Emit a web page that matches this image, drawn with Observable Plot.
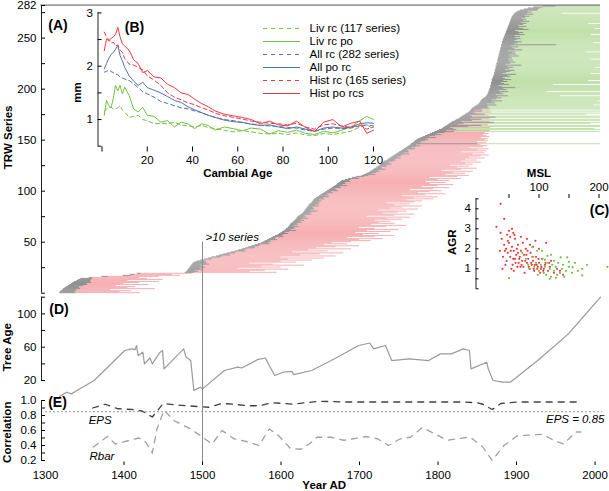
<!DOCTYPE html>
<html><head><meta charset="utf-8">
<script src="https://cdn.jsdelivr.net/npm/d3@7"></script>
<script src="https://cdn.jsdelivr.net/npm/@observablehq/plot@0.6"></script>
<style>
body{margin:0;background:#fff}
#chart{position:relative;width:609px;height:491px;overflow:hidden;background:#fff}
</style></head><body><div id="chart"></div>
<script>
// ---------- Panel A: TRW series (sorted by start) ----------
const seriesStart = [
1318,1319,1320,1322,1323,1325,1327,1329,1331,1333,1335,1337,1340,1342,1345,
1356,1372,1399,1408,1417,
1478,1480,1481,1482,1483,1484,1485,1486,1487,1488,1490,1493,
1498,1503,1508,1512,1518,1522,1527,1532,1537,1542,1546,1551,1555,1559,1563,1567,1571,1575,
1578,1580,1583,1585,1588,1590,1593,1596,1598,1600,1602,1604,1606,1607,1609,1610,1611,1612,1613,1615,
1616,1618,1619,1620,1621,1622,1624,1626,1628,1629,1630,1631,1632,1633,1634,1635,1636,1637,1639,1640,
1641,1642,1643,1645,1647,1649,1651,1653,1655,1657,1659,1661,1663,1665,1667,1669,1671,1672,1674,1676,
1678,1682,1686,1691,1696,1703,1706,1709,1712,1714,1716,1718,1720,1722,1724,1726,1727,1729,1730,1732,
1735,1737,1739,1741,1743,1745,1747,1749,1751,1753,1755,1757,1759,1761,1763,1765,1766,1768,1770,1771,
1773,1775,1778,1781,1784,1787,1790,1793,1796,1799,1802,1805,1807,1809,1811,1813,1815,1817,1819,1822,
1824,1827,1829,1831,1833,1835,1837,1839,1841,1842,1843,1844,1846,1848,1850,1852,1853,1854,1855,1856,
1857,1859,1861,1862,1863,1864,1864,1865,1865,1866,1866,1867,1867,1867,1868,1868,1868,1869,1869,1869,
1870,1870,1871,1871,1872,1872,1872,1873,1873,1873,1874,1874,1874,1875,1875,1875,1876,1876,1876,1877,
1877,1877,1878,1878,1878,1879,1879,1879,1880,1880,1880,1881,1881,1881,1882,1882,1882,1883,1883,1884,
1884,1885,1885,1886,1886,1887,1887,1888,1888,1889,1889,1890,1890,1891,1891,1892,1892,1893,1893,1894,
1894,1895,1896,1897,1898,1900,1902,1905,1910,1915,1922,1934];
const seriesPith = [
21,18,20,17,22,19,16,20,23,20,24,21,18,17,15,
4,8,10,6,5,
12,15,10,18,14,20,16,12,22,18,15,10,
6,9,5,11,8,14,7,10,6,13,8,6,12,8,10,7,15,9,
10,7,13,8,6,14,9,8,12,6,9,16,7,11,8,13,6,10,8,12,
9,12,7,15,8,10,6,13,8,10,17,7,11,9,6,14,8,12,8,10,
11,7,13,9,15,8,10,6,12,8,14,10,7,12,9,16,8,11,8,13,
10,8,14,6,11,9,15,7,10,12,8,16,9,6,12,8,14,10,7,11,
12,8,14,7,10,9,17,8,12,10,6,14,8,11,15,8,85,10,9,13,
15,11,20,9,13,18,10,16,25,12,22,15,9,30,45,13,18,55,11,22,
32,15,45,13,8,25,11,6,16,5,13,22,18,15,25,11,20,16,27,13,
18,22,15,28,11,20,16,25,13,22,18,32,15,11,23,17,13,20,15,25,
16,13,22,18,28,11,15,20,25,13,17,22,15,32,11,18,23,15,20,13,
18,15,25,13,22,16,20,11,28,18,15,22,13,70,16,20,25,15,18,22,
15,20,13,25,18,22,16,11,28,20,15,23,13,18,22,15,25,16,20,13,
18,22,15,25,16,20,13,22,18,15,12,16];
const seriesEnd = [
1421,1395,1410,1383,1440,1405,1415,1390,1432,1400,1420,1445,1405,1450,1430,
1420,1445,1472,1462,1487,
1595,1560,1580,1610,1545,1600,1575,1630,1590,1560,1620,1600,
1640,1610,1655,1600,1670,1625,1650,1680,1615,1660,1635,1690,1645,1670,1700,1655,1685,1665,
1690,1715,1700,1730,1685,1720,1745,1705,1725,1695,1740,1710,1750,1720,1700,1735,1760,1715,1745,1725,
1740,1720,1755,1735,1765,1710,1745,1770,1730,1750,1760,1725,1775,1740,1755,1780,1745,1765,1735,1770,
1780,1760,1795,1770,1800,1755,1785,1810,1775,1790,1805,1765,1795,1815,1780,1800,1820,1790,1810,1785,
1815,1800,1830,1790,1825,1840,1810,1835,1820,1845,1805,1830,1850,1825,1840,1815,1845,1835,1855,1830,
1850,1835,1860,1840,1855,1865,1845,1860,1830,1862,1850,1865,1840,1858,1863,1855,2007,1862,1850,1864,
1860,1864,1855,1866,1862,1858,1865,1860,2007,1866,2007,2000,1867,2007,2007,1864,1995,2007,1866,2007,
2007,1867,2007,2007,1865,1990,2007,1868,2007,1867,2007,2007,2007,2007,1998,2007,2007,2007,2003,2007,
2007,2007,2007,1956,2007,2007,2007,1939,2007,2007,2007,2007,2007,2007,1947,2007,2007,2007,1992,2007,
2007,2007,2007,2007,2007,1995,2007,2007,2007,2007,2007,2000,2007,2007,2007,2007,2007,2007,2007,1995,
2007,2007,2007,2007,2007,2007,1990,2007,2007,2007,2007,2007,2007,2007,2007,1998,2007,2007,2007,2007,
2007,2007,2007,1995,2007,2007,2007,2007,2007,2000,2007,2007,2007,2007,1992,2007,2007,2007,2007,2007,
2007,2007,2007,2007,1958,2007,2007,2007,2007,2007,2007,2007];
// h = historical, l = living
const seriesType = "h".repeat(146) + "l" + "h".repeat(11) + "lhllhllhllhllhllhllhlhll" + "l".repeat(100);
const trwTicks = [0,25,50,75,100,125,150,175,200,225,250,275,282];
const trwLabels = [50,100,150,200,250,282];
const cutoffYear = 1500, cutoffSeries = 50;

// ---------- Panel B: RCS curves ----------
const cambialAge = [1,2,3,4,5,6,7,8,9,10,12,14,16,18,20,23,26,29,32,35,38,41,44,47,50,54,58,62,66,70,74,78,82,86,90,94,98,102,106,110,114,117,120];
const livRc   = [1.15,1.2,1.22,1.23,1.2,1.2,1.22,1.26,1.18,1.14,1.04,1.06,1.08,1.0,0.98,0.92,0.93,0.92,0.95,0.9,0.88,0.86,0.89,0.85,0.83,0.8,0.77,0.79,0.77,0.74,0.73,0.74,0.72,0.75,0.71,0.7,0.74,0.72,0.75,0.78,0.86,0.9,0.82];
const livRcPo = [1.08,1.36,1.26,1.22,1.4,1.64,1.54,1.64,1.48,1.61,1.45,1.2,1.14,1.23,1.08,1.06,0.95,0.98,0.86,0.95,0.92,0.83,0.92,0.89,0.8,0.86,0.83,0.79,0.84,0.82,0.73,0.79,0.76,0.8,0.74,0.72,0.78,0.75,0.8,0.86,0.98,1.06,1.0];
const allRc   = [1.89,1.9,1.93,1.9,1.88,1.85,1.84,1.8,1.78,1.76,1.73,1.67,1.6,1.52,1.48,1.42,1.34,1.3,1.26,1.22,1.2,1.16,1.13,1.08,1.04,1.0,0.98,0.94,0.92,0.89,0.88,0.87,0.85,0.84,0.8,0.78,0.82,0.84,0.83,0.84,0.88,0.9,0.88];
const allPoRc = [1.95,2.05,2.15,2.22,2.26,2.32,2.39,2.2,2.1,1.98,1.82,1.72,1.64,1.7,1.6,1.55,1.5,1.43,1.36,1.32,1.24,1.18,1.13,1.08,1.04,0.99,0.96,0.95,0.91,0.89,0.9,0.86,0.83,0.86,0.82,0.78,0.84,0.86,0.84,0.86,0.92,0.94,0.93];
const histRc  = [2.64,2.55,2.5,2.43,2.45,2.38,2.4,2.3,2.26,2.15,2.04,2.02,1.98,1.93,1.82,1.74,1.64,1.5,1.42,1.37,1.31,1.28,1.22,1.18,1.12,1.07,1.04,1.01,0.97,0.95,0.93,0.92,0.9,0.93,0.86,0.82,0.9,0.92,0.88,0.85,0.9,0.82,0.86];
const histPoRcs = [2.29,2.51,2.48,2.52,2.55,2.6,2.73,2.55,2.42,2.38,2.3,2.12,2.05,1.88,1.92,1.8,1.78,1.66,1.6,1.5,1.47,1.38,1.3,1.24,1.16,1.1,1.07,1.04,1.0,0.92,0.97,0.9,0.88,0.97,0.85,0.78,0.95,1.0,0.86,0.93,0.97,0.74,0.8];
const legendLabels = ["Liv rc (117 series)","Liv rc po","All rc (282 series)","All po rc","Hist rc (165 series)","Hist po rcs"];
const mmTicks = [0.5,1,1.5,2,2.5,3];
const ageTicks = [0,20,40,60,80,100,120];

// ---------- Panel C: MSL vs AGR ----------
const histMSL = [36,29,42,36,50,55,57,52,80,94,42,39,45,48,52,55,58,60,62,65,66,68,70,72,74,75,78,80,82,84,86,88,90,92,95,98,100,102,105,108,110,112,115,118,120,125,130,135,140,46,50,60,64,70,76,85,40,44,54,58,100,90,35,38,
48,56,63,67,71,73,77,79,83,87,91,96,99,104,107,111,53,59,61,69,47,43,57,65,81,89,93,97,103,117];
const histAGR = [4.25,3.1,3.5,2.8,2.9,3.0,2.8,2.6,2.5,2.4,2.2,1.0,2.0,1.8,1.6,2.1,1.9,1.5,1.7,2.2,1.3,1.6,1.9,1.4,1.1,1.7,2.0,1.3,1.5,1.0,1.8,1.2,1.4,0.9,1.6,1.1,1.3,0.8,1.5,1.0,1.2,2.3,0.9,1.1,1.4,0.8,1.0,0.9,0.7,1.4,2.3,2.5,1.1,2.6,0.8,2.2,1.6,1.2,1.0,0.9,2.0,2.1,1.9,2.5,
2.4,1.2,2.0,1.5,1.2,2.3,1.4,1.7,1.1,1.3,1.0,1.2,1.5,1.1,0.9,1.3,1.9,2.7,1.3,1.1,2.7,1.9,1.5,1.8,1.9,1.6,1.2,1.0,1.0,1.3];
const livMSL = [50,89,97,114,125,136,147,156,172,172,214,72,78,82,85,90,95,100,103,106,108,110,112,115,118,120,122,125,128,130,132,135,138,140,142,145,150,155,160,165,120,105,98,92,118,128,110,150,180];
const livAGR = [0.53,2.08,1.9,1.65,1.4,1.57,1.57,1.08,1.0,0.67,1.1,1.8,1.5,1.2,1.0,1.6,1.3,0.9,1.2,1.5,0.8,1.1,0.7,1.3,1.0,0.6,1.2,0.9,1.1,0.7,1.3,0.8,1.0,1.2,0.6,0.9,1.1,0.8,1.3,0.9,1.7,1.9,0.7,1.1,0.5,0.55,1.45,1.35,1.2];
const agrTicks = [0,0.5,1,1.5,2,2.5,3,3.5,4,4.5];
const mslTicks = [50,100,150,200];

// ---------- Panel D: tree age ----------
const ageYear = [1318,1327,1333,1340,1362,1401,1410,1414,1416,1418,1424,1426,1433,1436,1446,1449,1451,1476,1479,1485,1489,1493,1497,1500,1528,1545,1550,1570,1580,1585,1592,1603,1614,1616,1639,1664,1699,1713,1718,1733,1741,1763,1788,1803,1817,1832,1840,1842,1862,1864,1870,1882,1892,1927,1966,2007];
const treeAge = [1,6,4,8,20,56,58,57,62,50,54,40,47,40,54,56,34,58,48,44,8,10,12,10,32,36,35,45,47,38,26,30,31,27,32,44,62,65,58,62,44,46,44,52,52,58,56,34,42,34,20,18,18,44,76,120];
const treeAgeTicks = [20,40,60,80,100,120];

// ---------- Panel E: EPS and Rbar ----------
const epsYear = [1360,1376,1392,1410,1423,1436,1450,1466,1481,1493,1508,1525,1540,1557,1572,1589,1604,1616,1631,1650,1680,1710,1740,1770,1800,1830,1850,1857,1869,1880,1900,1930,1960,1980];
const epsVal  = [0.90,0.95,0.89,0.88,0.86,0.78,0.96,0.94,0.93,0.92,0.91,0.96,0.95,0.93,0.93,0.97,0.96,0.95,0.97,0.99,0.98,0.98,0.98,0.98,0.98,0.98,0.97,0.95,0.88,0.96,0.98,0.98,0.98,0.98];
const rbarYear = [1361,1379,1389,1404,1419,1428,1436,1442,1451,1464,1485,1500,1512,1525,1540,1557,1572,1585,1597,1612,1625,1636,1646,1663,1680,1692,1708,1723,1737,1752,1765,1780,1795,1812,1825,1841,1857,1869,1884,1901,1918,1933,1947,1960,1975,1982];
const rbarVal  = [0.38,0.52,0.42,0.46,0.50,0.44,0.30,0.62,0.87,0.73,0.62,0.51,0.42,0.60,0.49,0.45,0.40,0.62,0.53,0.36,0.35,0.42,0.51,0.51,0.47,0.49,0.52,0.49,0.40,0.49,0.51,0.64,0.56,0.47,0.49,0.51,0.38,0.20,0.40,0.53,0.54,0.55,0.47,0.42,0.58,0.58];
const epsThreshold = 0.85;
const corrTicks = [0.2,0.3,0.4,0.5,0.6,0.7,0.8,0.9,1.0];
const yearLabels = [1300,1400,1500,1600,1700,1800,1900,2000];
const yearTicks = [1400,1500,1600,1700,1800,1900,2000];

// ---------- styles ----------
const PINK = "#f4a0a4", GREEN = "#b5da9a", GREYBAR = "#7c7c7c";
const RED = "#ec3a42", BLUE = "#5470ad", LGREEN = "#74c043";
const FONT = '"Liberation Sans", Arial, Helvetica, sans-serif';
const W = 609, H = 491;
const YEAR_DOMAIN = [1300, 2010];

function layer(opts) {
  const svg = Plot.plot({
    width: W, height: H,
    style: {background: "transparent", fontFamily: FONT, fontSize: "11px", color: "#000", overflow: "visible", position: "absolute", left: "0px", top: "0px", maxWidth: "none"},
    ...opts
  });
  document.getElementById("chart").appendChild(svg);
  return svg;
}

const rows = d3.range(seriesStart.length).map(i => ({
  row: i + 0.5, start: seriesStart[i], pithEnd: seriesStart[i] + seriesPith[i], end: seriesEnd[i], kind: seriesType[i]
}));
const hist = rows.filter(d => d.kind === "h");
const liv = rows.filter(d => d.kind === "l");

// ----- Panel A -----
layer({
  marginLeft: 45, marginRight: 6.6, marginTop: 5, marginBottom: H - 292.7,
  x: {domain: YEAR_DOMAIN, axis: null},
  y: {domain: [0, 282], label: null},
  marks: [
    Plot.ruleY(hist, {y: "row", x1: "pithEnd", x2: "end", stroke: PINK, strokeWidth: 0.85}),
    Plot.ruleY(liv, {y: "row", x1: "pithEnd", x2: "end", stroke: GREEN, strokeWidth: 0.85}),
    Plot.ruleY(rows, {y: "row", x1: "start", x2: "pithEnd", stroke: GREYBAR, strokeWidth: 0.85}),
    Plot.ruleY([282.4], {x1: 1294, x2: 2007, stroke: "#555", strokeWidth: 1}),
    Plot.axisY({ticks: trwTicks, tickSize: 4, tickPadding: 5, label: null, fontSize: 11.5,
      tickFormat: d => trwLabels.includes(d) ? String(d) : ""}),
    Plot.ruleX([1300], {y1: 0, y2: 282, dx: -4, stroke: "#222"}),
    Plot.ruleX([cutoffYear], {y1: cutoffSeries, y2: -4, stroke: "#8a8a8a"}),
    Plot.text([">10 series"], {x: cutoffYear, y: cutoffSeries + 5, dx: 3, textAnchor: "start", fontStyle: "italic", fontSize: 11.5, text: d => d}),
    Plot.text(["(A)"], {frameAnchor: "top-left", dx: 12.5, dy: 20, textAnchor: "middle", lineAnchor: "middle", fontWeight: "bold", fontSize: 14, text: d => d}),
    Plot.text(["TRW Series"], {frameAnchor: "left", rotate: -90, dx: -37, dy: -12, textAnchor: "middle", lineAnchor: "middle", fontWeight: "bold", fontSize: 11.5, text: d => d})
  ]
});

// ----- Panel D -----
layer({
  marginLeft: 45, marginRight: 6.6, marginTop: 296.7, marginBottom: H - 396.7,
  x: {domain: YEAR_DOMAIN, axis: null},
  y: {domain: [0, 120], label: null},
  marks: [
    Plot.line(ageYear, {x: ageYear, y: treeAge, stroke: "#9a9a9a", strokeWidth: 1.2}),
    Plot.axisY({ticks: treeAgeTicks, tickSize: 4, tickPadding: 5, label: null, fontSize: 11.5,
      tickFormat: d => [20, 60, 100].includes(d) ? String(d) : ""}),
    Plot.ruleX([1300], {y1: 20, y2: 120, dx: -4, stroke: "#222"}),
    Plot.ruleX([cutoffYear], {y1: 120, y2: -4, stroke: "#8a8a8a"}),
    Plot.text(["(D)"], {frameAnchor: "top-left", dx: 13.5, dy: 12.5, textAnchor: "middle", lineAnchor: "middle", fontWeight: "bold", fontSize: 14, text: d => d}),
    Plot.text(["Tree Age"], {frameAnchor: "left", rotate: -90, dx: -38, textAnchor: "middle", lineAnchor: "middle", fontWeight: "bold", fontSize: 11.5, text: d => d})
  ]
});

// ----- Panel E -----
layer({
  marginLeft: 45, marginRight: 6.6, marginTop: 400, marginBottom: H - 461.5,
  x: {domain: YEAR_DOMAIN, label: null},
  y: {domain: [0.2, 1.0], range: [460, 400], label: null},
  marks: [
    Plot.ruleY([epsThreshold], {stroke: "#999", strokeDasharray: "2,2", strokeWidth: 1}),
    Plot.line(rbarYear, {x: rbarYear, y: rbarVal, stroke: "#a0a0a0", strokeWidth: 1.3, strokeDasharray: "6,6"}),
    Plot.line(epsYear, {x: epsYear, y: epsVal, stroke: "#404040", strokeWidth: 1.3, strokeDasharray: "6,6"}),
    Plot.ruleX([cutoffYear], {y1: 1.0, y2: 0.15, stroke: "#8a8a8a"}),
    Plot.axisY({ticks: corrTicks, tickSize: 4, tickPadding: 5, label: null, fontSize: 11.5,
      tickFormat: d => Math.round(d * 10) % 2 === 0 ? d.toFixed(1) : ""}),
    Plot.ruleX([1300], {y1: 0.2, y2: 1.0, dx: -4, stroke: "#222"}),
    Plot.axisX({ticks: yearTicks, tickSize: 3.5, tickFormat: () => "", label: null}),
    Plot.axisX({ticks: yearLabels, tickSize: 0, tickPadding: 9, tickFormat: d => String(d), label: null, fontSize: 11.5}),
    Plot.text(["EPS"], {x: 1355, y: 0.735, textAnchor: "start", fontStyle: "italic", fontSize: 11.5, text: d => d}),
    Plot.text(["Rbar"], {x: 1356, y: 0.253, textAnchor: "start", fontStyle: "italic", fontSize: 11.5, text: d => d}),
    Plot.text(["EPS = 0.85"], {frameAnchor: "right", y: 0.747, dx: 1.6, textAnchor: "end", fontStyle: "italic", fontSize: 11.5, text: d => d}),
    Plot.text(["(E)"], {frameAnchor: "top-left", dx: 12, dy: 2, textAnchor: "middle", lineAnchor: "middle", fontWeight: "bold", fontSize: 14, text: d => d}),
    Plot.text(["Correlation"], {frameAnchor: "left", rotate: -90, dx: -38, dy: 1, textAnchor: "middle", lineAnchor: "middle", fontWeight: "bold", fontSize: 11.5, text: d => d}),
    Plot.text(["Year AD"], {frameAnchor: "bottom", dy: 23.5, textAnchor: "middle", lineAnchor: "middle", fontWeight: "bold", fontSize: 11.5, text: d => d})
  ]
});

// ----- Panel B -----
layer({
  marginLeft: 101.5, marginRight: W - 373, marginTop: 12.4, marginBottom: H - 146.5,
  x: {domain: [0, 120], label: null},
  y: {domain: [0.5, 3], range: [145.7, 12.4], label: null},
  marks: [
    Plot.lineY(livRc, {x: cambialAge, stroke: LGREEN, strokeWidth: 1, strokeDasharray: "4,3"}),
    Plot.lineY(livRcPo, {x: cambialAge, stroke: LGREEN, strokeWidth: 1}),
    Plot.lineY(allRc, {x: cambialAge, stroke: BLUE, strokeWidth: 1, strokeDasharray: "4,3"}),
    Plot.lineY(allPoRc, {x: cambialAge, stroke: BLUE, strokeWidth: 1}),
    Plot.lineY(histRc, {x: cambialAge, stroke: RED, strokeWidth: 1, strokeDasharray: "4,3"}),
    Plot.lineY(histPoRcs, {x: cambialAge, stroke: RED, strokeWidth: 1}),
    Plot.axisY({ticks: mmTicks, tickSize: 4, tickPadding: 5, label: null, fontSize: 11.5,
      tickFormat: d => Number.isInteger(d) ? String(d) : ""}),
    Plot.ruleX([0], {y1: 0.5, y2: 3, dx: -4, stroke: "#222"}),
    Plot.axisX({ticks: ageTicks, tickSize: 5, tickPadding: 4, label: null, fontSize: 11.5,
      tickFormat: d => d === 0 ? "" : String(d)}),
    Plot.text(["(B)"], {frameAnchor: "top-left", dx: 32.5, dy: 15, textAnchor: "middle", lineAnchor: "middle", fontWeight: "bold", fontSize: 14, text: d => d}),
    Plot.text(["mm"], {frameAnchor: "left", rotate: -90, dx: -24.5, dy: 12.5, textAnchor: "middle", lineAnchor: "middle", fontWeight: "bold", fontSize: 11.5, text: d => d}),
    Plot.text(["Cambial Age"], {frameAnchor: "bottom", dy: 26.5, textAnchor: "middle", lineAnchor: "middle", fontWeight: "bold", fontSize: 11.5, text: d => d})
  ]
});

// ----- Legend of B -----
const legendItems = legendLabels.map((label, i) => ({label, color: [LGREEN, LGREEN, BLUE, BLUE, RED, RED][i], dashed: i % 2 === 0}));
layer({
  marginLeft: 263, marginRight: W - 300, marginTop: 10, marginBottom: H - 110,
  x: {domain: [0, 1], axis: null},
  y: {type: "point", domain: legendLabels, range: [21.7, 100], axis: null},
  color: {type: "identity"},
  marks: [
    Plot.ruleY(legendItems.filter(d => d.dashed), {y: "label", x1: 0, x2: 1, stroke: "color", strokeWidth: 1, strokeDasharray: "4,4"}),
    Plot.ruleY(legendItems.filter(d => !d.dashed), {y: "label", x1: 0, x2: 1, stroke: "color", strokeWidth: 1}),
    Plot.text(legendItems, {y: "label", x: 1, dx: 9, text: "label", textAnchor: "start", fontSize: 11.5})
  ]
});

// ----- Panel C -----
layer({
  marginLeft: 478.5, marginRight: W - 598.5, marginTop: 197, marginBottom: H - 288.3,
  x: {domain: [0, 200], label: null},
  y: {domain: [0, 4], range: [288.3, 208.3], label: null},
  marks: [
    Plot.dot(histMSL, {x: histMSL, y: histAGR, r: 1.1, fill: RED, stroke: null}),
    Plot.dot(livMSL, {x: livMSL, y: livAGR, r: 1.1, fill: LGREEN, stroke: null}),
    Plot.axisY({ticks: agrTicks, tickSize: 3, tickPadding: 5, label: null, fontSize: 11.5,
      tickFormat: d => Number.isInteger(d) && d > 0 ? String(d) : ""}),
    Plot.ruleX([0], {y1: 0, y2: 4.5, dx: -3, stroke: "#222"}),
    Plot.axisX({anchor: "top", ticks: mslTicks, tickSize: 4, tickPadding: 3, label: null, fontSize: 11.5,
      tickFormat: d => d % 100 === 0 ? String(d) : ""}),
    Plot.text(["MSL"], {x: 100, frameAnchor: "top", dy: -24, textAnchor: "middle", lineAnchor: "middle", fontWeight: "bold", fontSize: 11.5, text: d => d}),
    Plot.text(["AGR"], {frameAnchor: "left", rotate: -90, dx: -27, dy: -1, textAnchor: "middle", lineAnchor: "middle", fontWeight: "bold", fontSize: 11.5, text: d => d}),
    Plot.text(["(C)"], {frameAnchor: "top-right", dx: 0.5, dy: 13, textAnchor: "middle", lineAnchor: "middle", fontWeight: "bold", fontSize: 14, text: d => d})
  ]
});
</script></body></html>
